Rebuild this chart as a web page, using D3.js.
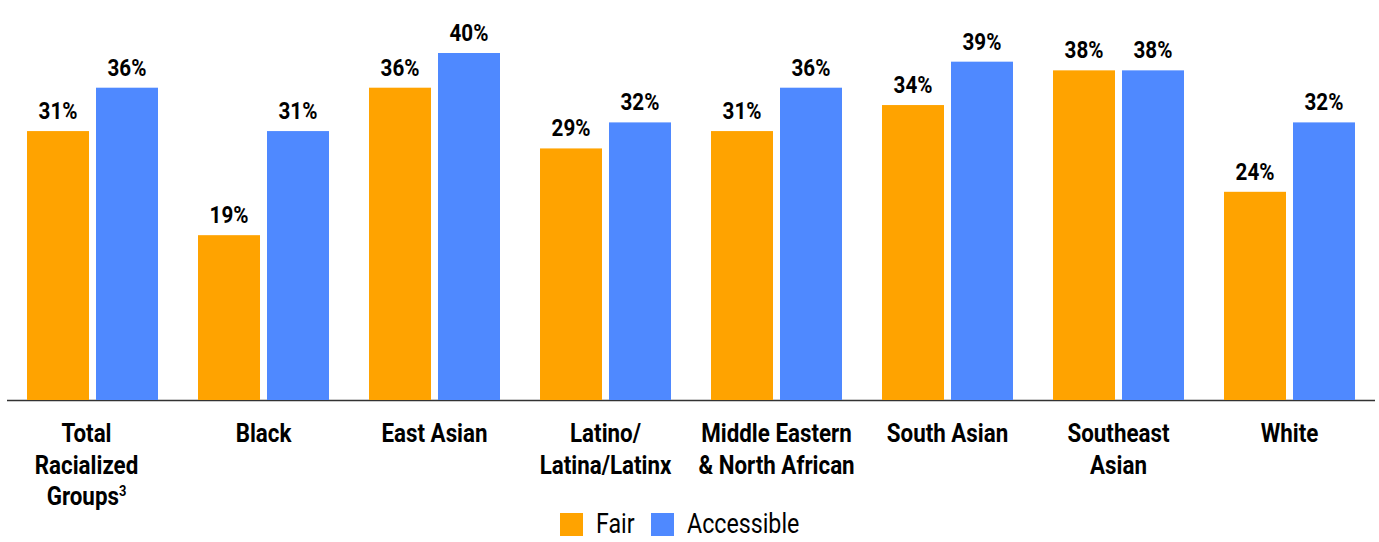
<!DOCTYPE html>
<html>
<head>
<meta charset="utf-8">
<script src="https://cdn.jsdelivr.net/npm/d3@7"></script>
<style>
  body { margin: 0; background: #fff; }
  text { font-family: Roboto, "Noto Sans", sans-serif; fill: #000; }
</style>
</head>
<body>
<div id="chart"></div>
<script>
// categories and values
const categories = ["Total Racialized Groups", "Black", "East Asian", "Latino/ Latina/Latinx",
  "Middle Eastern & North African", "South Asian", "Southeast Asian", "White"];
const labelLines = [
  ["Total", "Racialized", "Groups"],
  ["Black"],
  ["East Asian"],
  ["Latino/", "Latina/Latinx"],
  ["Middle Eastern", "& North African"],
  ["South Asian"],
  ["Southeast", "Asian"],
  ["White"]
];
const seriesNames = ["Fair", "Accessible"];
const fair = [31, 19, 36, 29, 31, 34, 38, 24];
const accessible = [36, 31, 40, 32, 36, 39, 38, 32];
const colors = ["#ffa300", "#4f89ff"];

const width = 1379, height = 542;
const baseY = 400;
const squeeze = 0.86; // fake a condensed face

const svg = d3.select("#chart").append("svg")
  .attr("width", width)
  .attr("height", height);

const x0 = d3.scaleBand()
  .domain(categories)
  .range([7, 1375])
  .paddingInner(0.234)
  .paddingOuter(0.117);

const x1 = d3.scaleBand()
  .domain(seriesNames)
  .range([0, x0.bandwidth()])
  .paddingInner(7 / 69);

const y = d3.scaleLinear()
  .domain([0, 40])
  .range([baseY, 53]);

// baseline
svg.append("line")
  .attr("x1", 7).attr("x2", 1375)
  .attr("y1", baseY + 0.5).attr("y2", baseY + 0.5)
  .attr("stroke", "#333")
  .attr("stroke-width", 1.5);

const rows = categories.map((c, i) => ({cat: c, vals: [fair[i], accessible[i]]}));

const groups = svg.selectAll("g.grp")
  .data(rows)
  .join("g")
  .attr("class", "grp")
  .attr("transform", d => `translate(${x0(d.cat)},0)`);

groups.selectAll("rect")
  .data(d => d.vals.map((v, j) => ({name: seriesNames[j], v: v, j: j})))
  .join("rect")
  .attr("x", d => x1(d.name))
  .attr("y", d => y(d.v))
  .attr("width", x1.bandwidth())
  .attr("height", d => baseY - y(d.v))
  .attr("fill", d => colors[d.j]);

groups.selectAll("text.val")
  .data(d => d.vals.map((v, j) => ({name: seriesNames[j], v: v})))
  .join("text")
  .attr("class", "val")
  .attr("transform", d => `translate(${x1(d.name) + x1.bandwidth() / 2},${y(d.v) - 12}) scale(${squeeze},1)`)
  .attr("text-anchor", "middle")
  .attr("font-size", 24)
  .attr("font-weight", 700)
  .text(d => d.v + "%");

// category labels
const labels = svg.selectAll("g.lab")
  .data(rows)
  .join("g")
  .attr("class", "lab")
  .attr("transform", (d, i) => `translate(${x0(d.cat) + x0.bandwidth() / 2 - (i === 0 ? 6 : 0)},0)`);

labels.each(function (d, i) {
  const g = d3.select(this);
  labelLines[i].forEach((line, k) => {
    const t = g.append("text")
      .attr("transform", `translate(0,${442 + k * 31.5}) scale(${squeeze},1)`)
      .attr("text-anchor", "middle")
      .attr("font-size", 26)
      .attr("font-weight", 700)
      .text(line);
    if (i === 0 && k === 2) {
      t.append("tspan")
        .attr("font-size", 15)
        .attr("dy", -9)
        .text("3");
    }
  });
});

// legend
const legend = svg.append("g").attr("class", "legend");
const legX = [560, 651];
seriesNames.forEach((s, j) => {
  legend.append("rect")
    .attr("x", legX[j]).attr("y", 513)
    .attr("width", 23).attr("height", 23)
    .attr("fill", colors[j]);
  legend.append("text")
    .attr("transform", `translate(${legX[j] + 36},533) scale(${squeeze},1)`)
    .attr("font-size", 27)
    .attr("fill", "#222")
    .text(s);
});
</script>
</body>
</html>
